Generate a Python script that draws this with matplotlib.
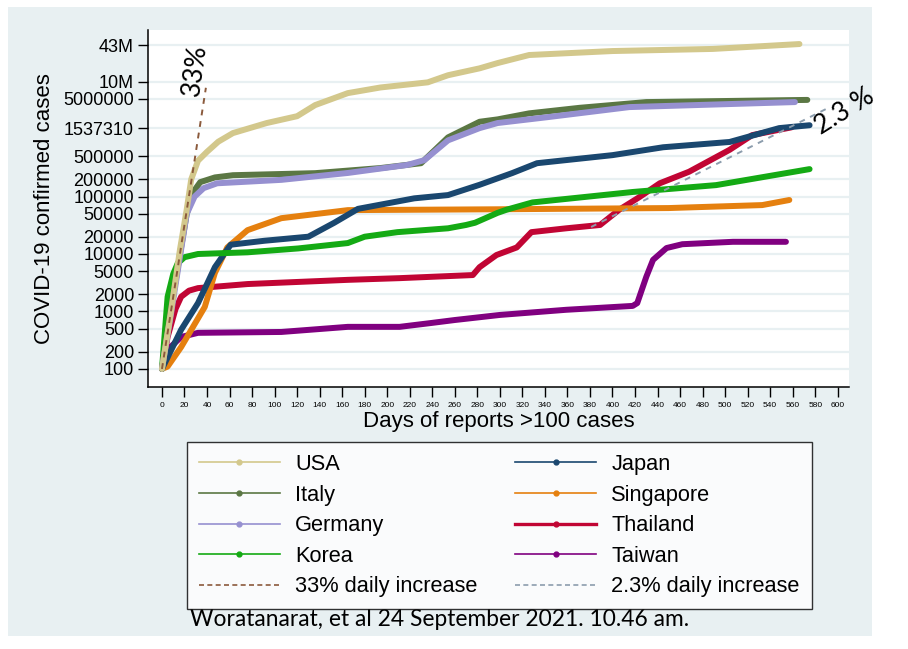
import numpy as np
import matplotlib
matplotlib.use("Agg")
from matplotlib import pyplot as plt
from matplotlib.lines import Line2D
from matplotlib.patches import Rectangle

plt.rcParams['font.family'] = ['Liberation Sans', 'DejaVu Sans']

# days since >100 cases, cumulative confirmed cases
usa_day = [0, 8, 16, 22, 26, 32, 40, 50, 63, 93, 120, 136, 165, 194, 236, 254, 282, 298, 326, 400, 489, 566]
usa_val = [100, 1000, 12000, 60000, 200000, 420000, 600000, 900000, 1270000, 1900000, 2500000,
           3900000, 6300000, 7900000, 9700000, 12900000, 17000000, 21000000, 29000000, 34000000,
           37000000, 45000000]

italy_day = [0, 8, 16, 22, 29, 34, 47, 63, 136, 194, 230, 254, 282, 298, 326, 371, 430, 573]
italy_val = [100, 1100, 10000, 50000, 130000, 178000, 215000, 235000, 255000, 313000, 380000,
             1070000, 2000000, 2200000, 2800000, 3500000, 4400000, 4800000]

germany_day = [0, 8, 16, 22, 29, 37, 49, 106, 165, 218, 233, 254, 282, 298, 342, 415, 562]
germany_val = [100, 900, 9000, 50000, 100000, 140000, 170000, 195000, 257000, 355000, 430000,
               950000, 1550000, 1900000, 2400000, 3600000, 4400000]

korea_day = [0, 5, 10, 14, 20, 32, 76, 121, 165, 180, 209, 254, 270, 278, 298, 306, 329, 418, 492, 575]
korea_val = [100, 1800, 4500, 6900, 8800, 10000, 10700, 12500, 15500, 20000, 24000, 28000, 32000,
             35000, 52000, 59000, 79000, 120000, 158000, 300000]

japan_day = [0, 17, 32, 47, 61, 91, 130, 153, 174, 224, 254, 282, 311, 333, 400, 445, 504, 548, 575]
japan_val = [100, 480, 1400, 5900, 14500, 17000, 20000, 35000, 61000, 93000, 106000, 160000,
             256000, 380000, 525000, 720000, 890000, 1550000, 1740000]

singapore_day = [0, 5, 17, 38, 47, 58, 76, 106, 165, 298, 450, 533, 557]
singapore_val = [100, 110, 240, 1200, 4700, 13000, 26000, 42000, 58000, 60000, 63000, 71000, 87000]

thailand_day = [0, 5, 12, 17, 24, 32, 76, 165, 211, 276, 282, 297, 315, 328, 359, 389, 406, 424,
                442, 468, 504, 524, 559]
thailand_val = [100, 360, 1100, 1800, 2300, 2550, 3000, 3550, 3800, 4300, 5900, 9600, 13000,
                24000, 28000, 32000, 59000, 98000, 170000, 270000, 650000, 1170000, 1600000]

taiwan_day = [0, 5, 17, 32, 106, 165, 211, 239, 260, 300, 359, 418, 422, 430, 436, 448, 462, 507, 554]
taiwan_val = [100, 215, 360, 425, 440, 540, 540, 630, 710, 870, 1070, 1250, 1400, 4000, 7900,
              12700, 14800, 16300, 16300]

# reference growth lines, start and end points
ref33_day = [0, 39]
ref33_val = [100, 7800000]
ref23_day = [381, 593]
ref23_val = [29500, 3600000]

yticks = [100, 200, 500, 1000, 2000, 5000, 10000, 20000, 50000, 100000, 200000, 500000,
          1537310, 5000000, 10000000, 43000000]
ytick_labels = ['100', '200', '500', '1000', '2000', '5000', '10000', '20000', '50000', '100000',
                '200000', '500000', '1537310', '5000000', '10M', '43M']
xticks = list(range(0, 601, 20))

series = [
    ('USA', usa_day, usa_val, '#D3C88C'),
    ('Italy', italy_day, italy_val, '#5B7744'),
    ('Germany', germany_day, germany_val, '#9690D0'),
    ('Korea', korea_day, korea_val, '#14AA14'),
    ('Japan', japan_day, japan_val, '#1A476F'),
    ('Singapore', singapore_day, singapore_val, '#E5800F'),
    ('Thailand', thailand_day, thailand_val, '#C10534'),
    ('Taiwan', taiwan_day, taiwan_val, '#800080'),
]

W, H = 908, 649
fig = plt.figure(figsize=(W / 100, H / 100), dpi=100)
fig.patch.set_facecolor('white')
bg = '#E8F0F2'
fig.patches.append(Rectangle((8 / W, 1 - 636 / H), (872 - 8) / W, (636 - 7) / H,
                             transform=fig.transFigure, facecolor=bg, edgecolor='none', zorder=-10))

ax = fig.add_axes([148 / W, 1 - 387 / H, (849 - 148) / W, (387 - 30) / H])
ax.set_facecolor('white')
ax.set_yscale('log')
ax.set_xlim(-12.4, 610)
ax.set_ylim(48.5, 7.9e7)

for y in yticks:
    ax.axhline(y, color=bg, lw=1.6, zorder=0)

# plotting order so that USA/Italy/Germany sit on top where they overlap
order = ['Taiwan', 'Thailand', 'Singapore', 'Japan', 'Korea', 'Italy', 'Germany', 'USA']
lookup = {s[0]: s for s in series}
for name in order:
    _, d, v, c = lookup[name]
    ax.plot(d, v, color=c, lw=4.3, solid_capstyle='round', solid_joinstyle='round', zorder=3)

ax.plot(ref33_day, ref33_val, color='#8B5A3C', lw=1.4, ls=(0, (3, 3)), zorder=4)
ax.plot(ref23_day, ref23_val, color='#8C9DAD', lw=1.4, ls=(0, (3, 3)), zorder=4)

ax.text(29, 1.6e7, '33%', rotation=82, fontsize=19, family=['Lato', 'DejaVu Sans'],
        ha='center', va='center')
ax.text(606, 3.0e6, '2.3 %', rotation=32, fontsize=19, family=['Lato', 'DejaVu Sans'],
        ha='center', va='center', clip_on=False)

ax.set_yticks(yticks)
ax.set_yticklabels(ytick_labels, fontsize=13)
ax.yaxis.set_minor_locator(matplotlib.ticker.NullLocator())
ax.set_xticks(xticks)
ax.set_xticklabels([str(t) for t in xticks], fontsize=6)
ax.tick_params(axis='y', length=7, width=1, pad=3)
ax.tick_params(axis='x', length=7, width=1, pad=4)
for side in ['top', 'right']:
    ax.spines[side].set_visible(False)
ax.spines['left'].set_linewidth(1.1)
ax.spines['bottom'].set_linewidth(1.1)

ax.set_ylabel('COVID-19 confirmed cases', fontsize=16, labelpad=6)
ax.set_xlabel('Days of reports >100 cases', fontsize=16, labelpad=1)

handles = []
labels = []
col1 = ['USA', 'Italy', 'Germany', 'Korea']
col2 = ['Japan', 'Singapore', 'Thailand', 'Taiwan']
for name in col1:
    c = lookup[name][3]
    handles.append(Line2D([], [], color=c, lw=1.2, marker='o', markersize=3.5))
    labels.append(name)
handles.append(Line2D([], [], color='#8B5A3C', lw=1.2, ls=(0, (3, 2))))
labels.append('33% daily increase')
for name in col2:
    c = lookup[name][3]
    lw = 2.4 if name == 'Thailand' else 1.2
    handles.append(Line2D([], [], color=c, lw=lw, marker='o', markersize=3.5))
    labels.append(name)
handles.append(Line2D([], [], color='#8C9DAD', lw=1.2, ls=(0, (3, 2))))
labels.append('2.3% daily increase')

leg = fig.legend(handles, labels, ncol=2, loc='upper left',
                 bbox_to_anchor=(187 / W, 1 - 442 / H), bbox_transform=fig.transFigure,
                 fontsize=15.7, frameon=True, fancybox=False, edgecolor='black',
                 handlelength=3.7, handletextpad=0.7, columnspacing=1.75,
                 labelspacing=0.44, borderpad=0.55, borderaxespad=0, numpoints=1)
leg.get_frame().set_linewidth(1.0)

fig.text(190 / W, 1 - 620 / H, 'Woratanarat, et al 24 September 2021. 10.46 am.',
         fontsize=16.4, family=['Lato', 'DejaVu Sans'], ha='left', va='center')

fig.savefig('out.png', dpi=100, facecolor=fig.get_facecolor())
